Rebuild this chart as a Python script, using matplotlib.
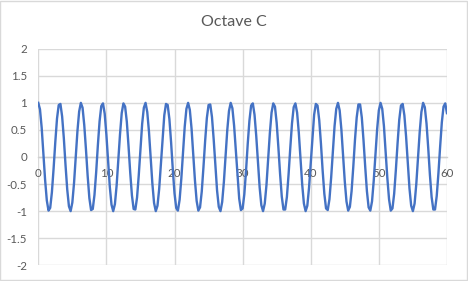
import numpy as np
import matplotlib
matplotlib.use("Agg")
import matplotlib.pyplot as plt
from matplotlib.patches import Rectangle

# wave values, in hundredths, one every 0.25 along x (0 .. 60)
x_step = 0.25
wave_pct = [
    100, 88, 54, 7, -42, -80, -99, -94, -65, -21, 28, 71, 96, 98, 75, 35, -15, -60, -91, -100,
    -84, -48, 0, 48, 84, 100, 91, 59, 14, -35, -76, -98, -96, -70, -28, 22, 66, 94, 99, 80,
    41, -8, -55, -88, -100, -87, -53, -6, 42, 81, 99, 93, 65, 20, -29, -71, -96,
    -97, -75, -34, 15, 61, 91, 100, 83, 47, -1, -49, -85, -100, -90, -59, -13, 36, 77, 98, 96,
    70, 27, -23, -67, -94, -99, -79, -40, 9, 56, 89, 100, 87, 53, 5, -43, -81, -99, -93, -64,
    -19, 30, 72, 96, 97, 74, 33, -16, -62, -92, -100, -83, -46, 2, 50, 85, 100, 90, 58, 12,
    -37, -77, -98, -95, -69, -26, 24, 67, 95, 99, 78, 39, -10, -56, -89, -100, -86, -52, -4, 44,
    82, 99, 93, 63, 18, -31, -73, -97, -97, -74, -32, 17, 62, 92, 99, 82, 45, -3, -51, -86,
    -100, -90, -57, -11, 38, 78, 98, 95, 68, 25, -25, -68, -95, -98, -78, -38, 11, 57, 89, 100,
    86, 51, 4, -45, -82, -99, -92, -63, -18, 32, 73, 97, 97, 73, 31, -18, -63, -93, -99, -82,
    -44, 4, 51, 86, 100, 89, 57, 10, -39, -78, -99, -95, -68, -24, 25, 69, 95, 98, 77, 38,
    -11, -58, -90, -100, -86, -50, -3, 46, 83, 100, 92, 62, 17, -33, -74, -97, -97, -72, -30, 19,
    64, 93, 99, 81,
]

x_ticks = [0, 10, 20, 30, 40, 50, 60]
y_ticks = [-2, -1.5, -1, -0.5, 0, 0.5, 1, 1.5, 2]

x = np.arange(len(wave_pct)) * x_step
y = np.array(wave_pct) / 100

plt.rcParams['font.family'] = ['Lato', 'DejaVu Sans']
plt.rcParams['axes.unicode_minus'] = False

fig = plt.figure(figsize=(4.68, 2.81), dpi=100)
# chart area border
fig.patches.append(Rectangle((0.001, 0.002), 0.997, 0.995, transform=fig.transFigure,
                             fill=False, edgecolor='#d9d9d9', lw=1))
ax = fig.add_axes([0.0818, 0.0559, 0.955 - 0.0818, 0.8267 - 0.0559])
ax.plot(x, y, color='#4472C4', lw=1.7, zorder=3)
ax.set_xlim(0, 60)
ax.set_ylim(-2, 2)
ax.set_xticks(x_ticks)
ax.set_yticks(y_ticks)
ax.set_yticklabels([f"{v:g}" for v in y_ticks])
ax.grid(True, color='#d9d9d9', lw=1)
ax.set_axisbelow(True)
for s in ['top', 'right', 'left']:
    ax.spines[s].set_visible(False)
# horizontal axis crosses at y = 0, like Excel
ax.spines['bottom'].set_position(('data', 0))
ax.spines['bottom'].set_color('#d0d0d0')
ax.spines['bottom'].set_linewidth(1)
ax.tick_params(axis='x', length=0, pad=8, labelsize=8.3, labelcolor='#595959')
ax.tick_params(axis='y', length=0, pad=8, labelsize=8.3, labelcolor='#595959')
fig.text(0.5, 1 - 22 / 281, "Octave C", ha='center', va='center', fontsize=11.5, color='#595959')
fig.savefig("out.png", dpi=100)
